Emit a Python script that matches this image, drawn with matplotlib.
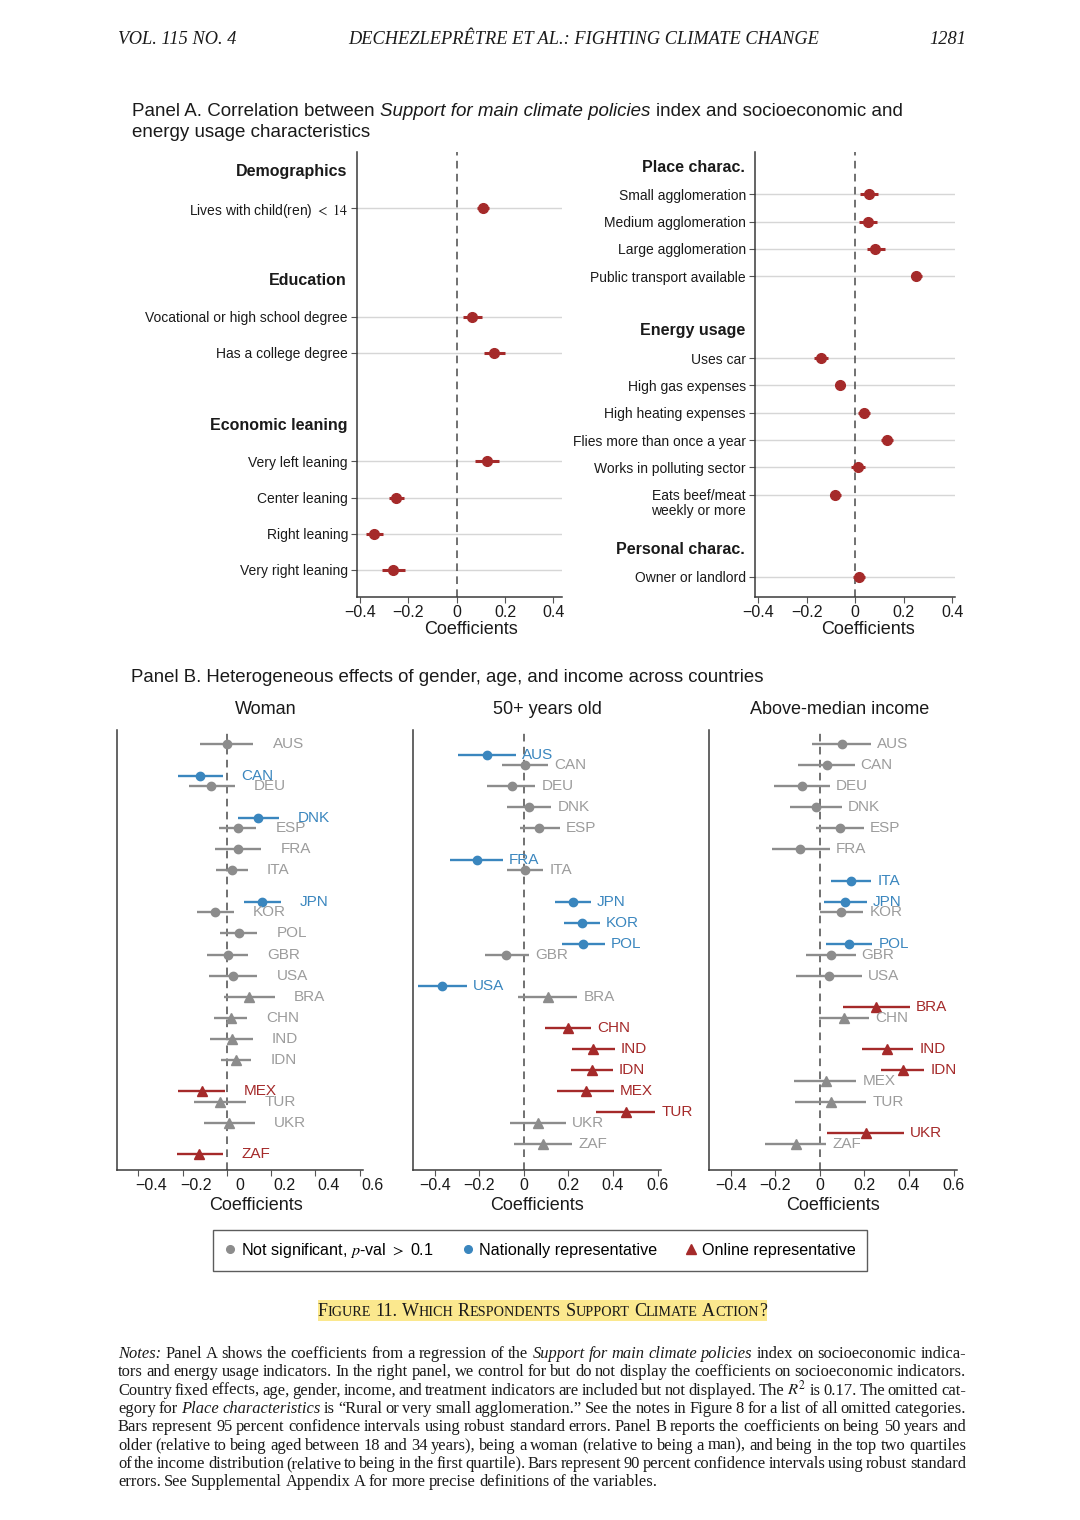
import matplotlib
matplotlib.use("Agg")
import matplotlib.pyplot as plt
from matplotlib import transforms as mtrans
from matplotlib.lines import Line2D
from matplotlib.patches import Rectangle

plt.rcParams['font.family'] = ['Liberation Sans', 'DejaVu Sans']
plt.rcParams['mathtext.fontset'] = 'stix'

# ---------------------------------------------------------------- data
A_left_groups = ["Demographics", "Education", "Economic leaning"]
A_left_items = [
    ["Lives with child(ren) $<$ $14$"],
    ["Vocational or high school degree", "Has a college degree"],
    ["Very left leaning", "Center leaning", "Right leaning", "Very right leaning"],
]
A_left_coef = [0.108, 0.065, 0.154, 0.126, -0.252, -0.341, -0.263]
A_left_low = [0.085, 0.026, 0.113, 0.077, -0.282, -0.377, -0.311]
A_left_high = [0.133, 0.106, 0.198, 0.177, -0.219, -0.304, -0.214]

A_right_groups = ["Place charac.", "Energy usage", "Personal charac."]
A_right_items = [
    ["Small agglomeration", "Medium agglomeration", "Large agglomeration",
     "Public transport available"],
    ["Uses car", "High gas expenses", "High heating expenses",
     "Flies more than once a year", "Works in polluting sector",
     "Eats beef/meat\nweekly or more"],
    ["Owner or landlord"],
]
A_right_coef = [0.059, 0.052, 0.084, 0.253, -0.142, -0.063, 0.036, 0.130, 0.012, -0.081, 0.016]
A_right_low = [0.022, 0.015, 0.049, 0.231, -0.168, -0.085, 0.012, 0.105, -0.018, -0.103, -0.008]
A_right_high = [0.093, 0.091, 0.122, 0.276, -0.113, -0.040, 0.060, 0.155, 0.042, -0.057, 0.042]

A_xticks = [-0.4, -0.2, 0, 0.2, 0.4]
A_xticklabels = ["\u22120.4", "\u22120.2", "0", "0.2", "0.4"]

countries = ["AUS", "CAN", "DEU", "DNK", "ESP", "FRA", "ITA", "JPN", "KOR", "POL",
             "GBR", "USA", "BRA", "CHN", "IND", "IDN", "MEX", "TUR", "UKR", "ZAF"]
survey = ["national"] * 12 + ["online"] * 8

woman_coef = [0.000, -0.120, -0.070, 0.140, 0.048, 0.050, 0.022, 0.160, -0.053, 0.055,
              0.003, 0.028, 0.100, 0.018, 0.022, 0.040, -0.112, -0.032, 0.010, -0.125]
woman_low = [-0.120, -0.220, -0.170, 0.050, -0.035, -0.054, -0.050, 0.075, -0.135, -0.030,
             -0.090, -0.080, -0.012, -0.057, -0.075, -0.027, -0.220, -0.150, -0.105, -0.225]
woman_high = [0.120, -0.020, 0.035, 0.235, 0.133, 0.156, 0.093, 0.243, 0.030, 0.138,
              0.096, 0.138, 0.216, 0.090, 0.118, 0.110, -0.010, 0.085, 0.126, -0.020]
woman_sig = [0, 1, 0, 1, 0, 0, 0, 1, 0, 0, 0, 0, 0, 0, 0, 0, 1, 0, 0, 1]

old_coef = [-0.167, 0.005, -0.055, 0.022, 0.070, -0.212, 0.005, 0.220, 0.262, 0.266,
            -0.078, -0.366, 0.108, 0.199, 0.311, 0.307, 0.277, 0.457, 0.063, 0.087]
old_low = [-0.296, -0.097, -0.164, -0.075, -0.018, -0.329, -0.075, 0.139, 0.179, 0.172,
           -0.176, -0.475, -0.027, 0.097, 0.214, 0.212, 0.150, 0.325, -0.064, -0.042]
old_high = [-0.037, 0.109, 0.052, 0.123, 0.160, -0.093, 0.087, 0.299, 0.341, 0.362,
            0.025, -0.257, 0.240, 0.302, 0.407, 0.400, 0.405, 0.590, 0.190, 0.217]
old_sig = [1, 0, 0, 0, 0, 1, 0, 1, 1, 1, 0, 1, 0, 1, 1, 1, 1, 1, 0, 0]

inc_coef = [0.098, 0.030, -0.082, -0.019, 0.090, -0.087, 0.138, 0.113, 0.096, 0.131,
            0.051, 0.041, 0.251, 0.108, 0.303, 0.371, 0.026, 0.048, 0.206, -0.106]
inc_low = [-0.037, -0.097, -0.207, -0.132, -0.015, -0.214, 0.048, 0.018, -0.001, 0.026,
           -0.060, -0.105, 0.104, -0.005, 0.188, 0.276, -0.117, -0.112, 0.030, -0.245]
inc_high = [0.231, 0.156, 0.044, 0.098, 0.198, 0.044, 0.231, 0.210, 0.195, 0.236,
            0.160, 0.188, 0.405, 0.220, 0.419, 0.468, 0.164, 0.209, 0.378, 0.029]
inc_sig = [0, 0, 0, 0, 0, 0, 1, 1, 0, 1, 0, 0, 1, 0, 1, 1, 0, 0, 1, 0]

B_titles = ["Woman", "50+ years old", "Above-median income"]
B_xticks = [-0.4, -0.2, 0, 0.2, 0.4, 0.6]
B_xticklabels = ["\u22120.4", "\u22120.2", "0", "0.2", "0.4", "0.6"]

legend_labels = [r"Not significant, $p$-val $>$ 0.1", "Nationally representative",
                 "Online representative"]

notes_lines = [
    "_Notes: Panel A shows the coefficients from a regression of the _Support _for _main _climate _policies index on socioeconomic indica-",
    "tors and energy usage indicators. In the right panel, we control for but do not display the coefficients on socioeconomic indicators.",
    "Country fixed effects, age, gender, income, and treatment indicators are included but not displayed. The $R^2$ is 0.17. The omitted cat-",
    "egory for _Place _characteristics is \u201cRural or very small agglomeration.\u201d See the notes in Figure 8 for a list of all omitted categories.",
    "Bars represent 95 percent confidence intervals using robust standard errors. Panel B reports the coefficients on being 50 years and",
    "older (relative to being aged between 18 and 34 years), being a woman (relative to being a man), and being in the top two quartiles",
    "of the income distribution (relative to being in the first quartile). Bars represent 90 percent confidence intervals using robust standard",
    "errors. See Supplemental Appendix A for more precise definitions of the variables.",
]

# ---------------------------------------------------------------- style
RED = "#a52a2a"
BLUE = "#3a86be"
GRAY = "#8c8c8c"
GRAY_TXT = "#9c9c9c"
AXC = "#3a3a3a"
GRID = "#d6d6d6"
TXT = "#1a1a1a"
SERIF = ['Liberation Serif', 'DejaVu Serif']

W, H = 1080, 1520
fig = plt.figure(figsize=(W / 100, H / 100), dpi=100)
fig.patch.set_facecolor("white")
renderer = fig.canvas.get_renderer()


def px_rect(l, t, r, b):
    return [l / W, 1 - b / H, (r - l) / W, (b - t) / H]


def fx(x):
    return x / W


def fy(y):
    return 1 - y / H


def shift(px, py=0):
    return mtrans.ScaledTranslation(px / 100, py / 100, fig.dpi_scale_trans)


def text_width(s, **kw):
    t = fig.text(0, 0, s, **kw)
    w = t.get_window_extent(renderer=renderer).width
    t.remove()
    return w


def space_width(**kw):
    return text_width("a a", **kw) - text_width("aa", **kw)


def draw_words(x, y, words, gap=None, **base):
    """words: list of (string, extra kwargs). y = baseline pixel."""
    if gap is None:
        gap = space_width(**base)
    for s, kw in words:
        k = dict(base)
        k.update(kw)
        fig.text(fx(x), fy(y), s, ha='left', va='baseline', **k)
        x += text_width(s, **k) + gap
    return x


# ---------------------------------------------------------------- header
hdr = dict(family=SERIF, style='italic', fontsize=13.2, color=TXT, va='center')
fig.text(fx(118), fy(40), "VOL. 115 NO. 4", ha='left', **hdr)
fig.text(fx(584), fy(40), "DECHEZLEPR\u00caTRE ET AL.: FIGHTING CLIMATE CHANGE", ha='center', **hdr)
fig.text(fx(966), fy(40), "1281", ha='right', **hdr)

# ---------------------------------------------------------------- panel A
titleA1 = [("Panel A. Correlation between", {}),
           ("Support for main climate policies", {'style': 'italic'}),
           ("index and socioeconomic and", {})]
draw_words(132, 116, titleA1, fontsize=13.5, color=TXT)
fig.text(fx(132), fy(137), "energy usage characteristics", fontsize=13.5, color=TXT,
         ha='left', va='baseline')


def panelA(rect, groups, items, coef, low, high, xlim, xlab_x):
    ax = fig.add_axes(px_rect(*rect))
    heads, rows, labels = [], [], []
    r = 0
    for g, its in zip(groups, items):
        heads.append((r, g))
        r += 1
        for it in its:
            rows.append(r)
            labels.append(it)
            r += 1
        r += 1
    nrows = r - 1
    ax.set_ylim(nrows - 1 + 0.75, -0.55)
    ax.set_xlim(*xlim)
    ax.axvline(0, color="#4a4a4a", lw=1.1, ls=(0, (5, 3.5)), zorder=1)
    ax.hlines(rows, low, high, color=RED, lw=2.2, zorder=3)
    ax.plot(coef, rows, 'o', color=RED, ms=7, zorder=4)
    ax.set_yticks(rows)
    ax.set_yticklabels([l.split("\n")[0] for l in labels], fontsize=10, color=TXT)
    ax.grid(axis='y', color=GRID, lw=1.0)
    ax.set_axisbelow(True)
    ax.tick_params(axis='y', length=4.5, width=0.8, color="#555", pad=2)
    ax.tick_params(axis='x', length=4, width=0.8, color="#555", pad=2,
                   labelsize=11.5, labelcolor=TXT)
    ax.set_xticks(A_xticks)
    ax.set_xticklabels(A_xticklabels)
    for s in ('top', 'right'):
        ax.spines[s].set_visible(False)
    for s in ('left', 'bottom'):
        ax.spines[s].set_color(AXC)
        ax.spines[s].set_linewidth(1.1)
    ytr = ax.get_yaxis_transform()
    for y, g in heads:
        ax.text(0, y, g, transform=ytr + shift(-10), ha='right', va='center',
                fontsize=11.5, fontweight='bold', color=TXT)
    for y, l in zip(rows, labels):
        parts = l.split("\n")
        for j, p in enumerate(parts[1:], start=1):
            ax.text(0, y, p, transform=ytr + shift(-9, -16 * j), ha='right',
                    va='center', fontsize=10, color=TXT)
    fig.text(fx(xlab_x), fy(629), "Coefficients", ha='center', va='center',
             fontsize=13, color=TXT)
    return ax


panelA((357, 152, 562, 597), A_left_groups, A_left_items, A_left_coef,
       A_left_low, A_left_high, (-0.413, 0.436), 471)
panelA((755, 152, 955, 597), A_right_groups, A_right_items, A_right_coef,
       A_right_low, A_right_high, (-0.413, 0.412), 868)

# ---------------------------------------------------------------- panel B
fig.text(fx(131), fy(682), "Panel B. Heterogeneous effects of gender, age, and income across countries",
         fontsize=13.4, color=TXT, ha='left', va='baseline')


def panelB(rect, coef, low, high, sig, title, title_x, xlab_x, tshift):
    ax = fig.add_axes(px_rect(*rect))
    ax.set_xlim(-0.497, 0.615)
    ax.set_ylim(20.24, -0.67)
    ax.axvline(0, color="#4a4a4a", lw=1.1, ls=(0, (5, 3.5)), zorder=1)
    lab_tr = ax.transData + shift(6 + tshift)
    for i, name in enumerate(countries):
        y = i + 0.5 * sig[i]
        nat = survey[i] == "national"
        if sig[i]:
            c = BLUE if nat else RED
            tc = c
        else:
            c = GRAY
            tc = GRAY_TXT
        ax.hlines(y, low[i], high[i], color=c, lw=1.7, zorder=2)
        ax.plot([coef[i]], [y], ls='none', marker='o' if nat else '^',
                ms=6 if nat else 7.5, color=c, zorder=3)
        ax.text(high[i], y, name, transform=lab_tr, ha='left', va='center',
                fontsize=11, color=tc)
    ax.set_yticks([])
    ax.set_xticks(B_xticks)
    ax.set_xticklabels(B_xticklabels)
    ax.tick_params(axis='x', length=4, width=0.8, color="#555", pad=2,
                   labelsize=11.5, labelcolor=TXT)
    for s in ('top', 'right'):
        ax.spines[s].set_visible(False)
    for s in ('left', 'bottom'):
        ax.spines[s].set_color(AXC)
        ax.spines[s].set_linewidth(1.1)
    if tshift:
        for lab in ax.get_xticklabels():
            lab.set_transform(lab.get_transform() + shift(tshift))
    fig.text(fx(title_x), fy(710), title, ha='center', va='center', fontsize=13, color=TXT)
    fig.text(fx(xlab_x), fy(1205), "Coefficients", ha='center', va='center',
             fontsize=13, color=TXT)
    return ax


panelB((117, 730, 363, 1170), woman_coef, woman_low, woman_high, woman_sig,
       B_titles[0], 266, 256, 13)
panelB((413, 730, 661, 1170), old_coef, old_low, old_high, old_sig,
       B_titles[1], 547, 537, 0)
panelB((709, 730, 957, 1170), inc_coef, inc_low, inc_high, inc_sig,
       B_titles[2], 840, 833, 0)

# legend
handles = [Line2D([], [], ls='none', marker='o', ms=5.5, color=GRAY),
           Line2D([], [], ls='none', marker='o', ms=5.5, color=BLUE),
           Line2D([], [], ls='none', marker='^', ms=6.5, color=RED)]
leg = fig.legend(handles, legend_labels, loc='center', ncol=3, mode='expand',
                 bbox_to_anchor=(fx(213), fy(1271), (867 - 213) / W, 41 / H),
                 frameon=True, fancybox=False, edgecolor="#333333", fontsize=11.6,
                 handlelength=0.7, handletextpad=0.35, borderpad=0.7,
                 borderaxespad=0, columnspacing=1.5)
leg.get_frame().set_linewidth(1.0)

# ---------------------------------------------------------------- caption
fig.add_artist(Rectangle((fx(318), fy(1321)), (767 - 318) / W, 21 / H,
                         transform=fig.transFigure, facecolor="#fbe88e",
                         edgecolor='none', zorder=0))
cap = "Figure 11. Which Respondents Support Climate Action?"
BIG, SMALL = 13, 10.2


def sc_runs(word):
    runs = []
    for ch in word:
        sz = SMALL if ch.islower() else BIG
        c = ch.upper()
        if runs and runs[-1][1] == sz:
            runs[-1][0] += c
        else:
            runs.append([c, sz])
    return runs


sp = space_width(family=SERIF, fontsize=BIG)
wlist = []
for wd in cap.split(" "):
    runs = sc_runs(wd)
    ws = [text_width(s, family=SERIF, fontsize=z) for s, z in runs]
    wlist.append((runs, ws))
total = sum(sum(ws) for _, ws in wlist) + sp * (len(wlist) - 1)
x = 542 - total / 2
for runs, ws in wlist:
    for (s, z), w in zip(runs, ws):
        fig.text(fx(x), fy(1316), s, family=SERIF, fontsize=z, color=TXT,
                 ha='left', va='baseline')
        x += w
    x += sp

# ---------------------------------------------------------------- notes
nl_x0, nl_x1 = 118, 966


def parse(line):
    out = []
    for wd in line.split(" "):
        if wd.startswith("_"):
            out.append((wd[1:], {'style': 'italic'}))
        else:
            out.append((wd, {}))
    return out


def word_sum(words, base):
    tot = 0
    for s, kw in words:
        kk = dict(base)
        kk.update(kw)
        tot += text_width(s, **kk)
    return tot


# pick the note font size: widest line fits with slightly tightened spacing
F0 = 10.5
b0 = dict(family=SERIF, fontsize=F0)
sp0 = space_width(**b0)
nat = []
for line in notes_lines[:-1]:
    wds = parse(line)
    nat.append(word_sum(wds, b0) + sp0 * (len(wds) - 1))
NFS = F0 * (nl_x1 - nl_x0 - 4) / max(nat) * 1.035
nbase = dict(family=SERIF, fontsize=NFS, color=TXT)
for k, line in enumerate(notes_lines):
    words = parse(line)
    base_y = 1358 + k * 18.35
    if k < len(notes_lines) - 1:
        wsum = word_sum(words, nbase)
        gap = (nl_x1 - nl_x0 - wsum) / (len(words) - 1)
        draw_words(nl_x0, base_y, words, gap=gap, **nbase)
    else:
        draw_words(nl_x0, base_y, words, gap=space_width(**nbase) * 0.8, **nbase)

fig.savefig("out.png", dpi=100, facecolor="white")
